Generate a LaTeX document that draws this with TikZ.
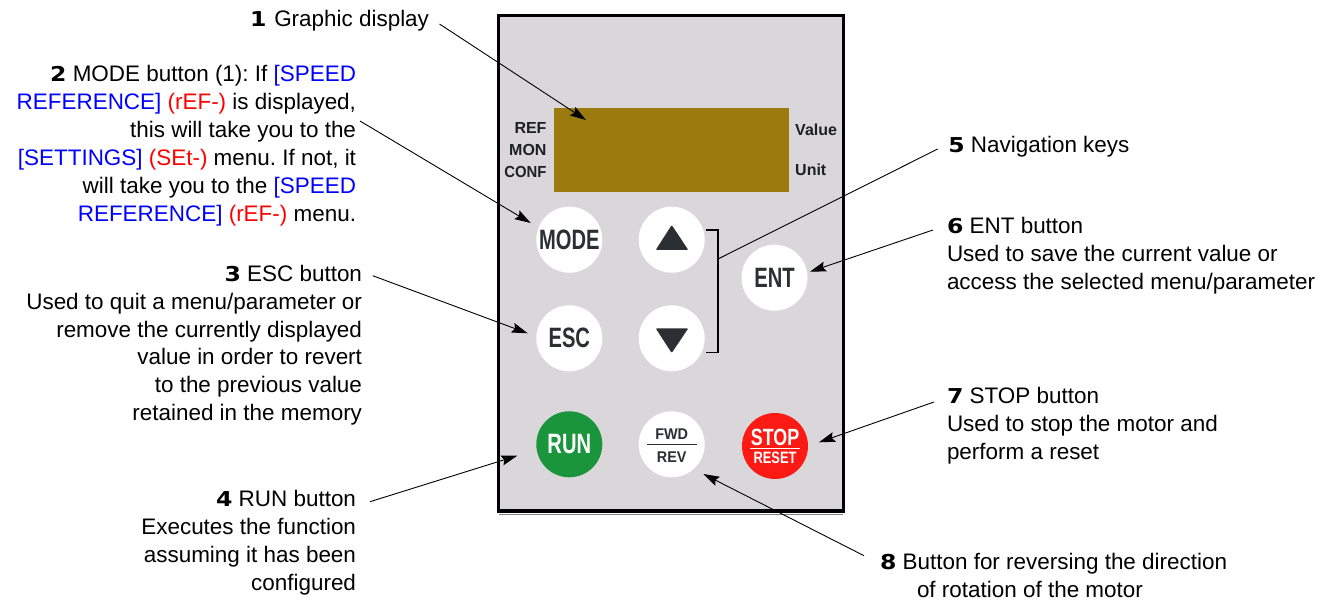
\documentclass[tikz,border=0pt]{standalone}
\usepackage{fontspec}
\setmainfont{Liberation Sans}
\newfontfamily\numfont{DejaVu Sans}[BoldFont={DejaVu Sans Bold}]
\usetikzlibrary{arrows.meta}
\definecolor{panelgray}{HTML}{D9D7DA}
\definecolor{dispcol}{HTML}{9C7B0E}
\definecolor{keyink}{HTML}{2B2E33}
\definecolor{rungreen}{HTML}{1B953C}
\definecolor{stopred}{HTML}{FC1A14}
\definecolor{linkblue}{HTML}{0000FF}
\definecolor{linkred}{HTML}{FF0000}
\newcommand{\nm}[1]{\scalebox{1.15}[1]{\numfont\bfseries\fontsize{20.5}{20}\selectfont #1}}
\newcommand{\bl}[1]{\textcolor{linkblue}{#1}}
\newcommand{\rd}[1]{\textcolor{linkred}{#1}}
\newcommand{\cond}[2]{\scalebox{#1}[1]{#2}}
\tikzset{
  x=1pt,y=-1pt,
  lbl/.style={inner sep=0pt,outer sep=0pt,font=\fontsize{22.45}{27.9}\selectfont\frenchspacing},
  lblr/.style={lbl,align=right,anchor=north east},
  lbll/.style={lbl,align=left,anchor=north west},
  key/.style={circle,fill=white,minimum size=66pt,inner sep=0pt,text=keyink,font=\fontsize{28}{28}\selectfont\bfseries},
  tag/.style={inner sep=0pt,font=\fontsize{16}{16}\selectfont\bfseries,text=keyink!70!black},
  leader/.style={draw=black,line width=0.9pt},
  pointer/.style={leader,-{Stealth[length=16pt,width=10pt,inset=2.5pt]}},
}
\begin{document}
\begin{tikzpicture}
\useasboundingbox (0,0) rectangle (1325,601);
\fill[white] (0,0) rectangle (1325,601);
% panel
\draw[line width=0.8pt,draw=black!50] (499,514) -- (843,514);
\node[draw=black,line width=3.2pt,fill=panelgray,minimum width=345pt,minimum height=495.5pt,inner sep=0pt,outer sep=0pt,anchor=north west] (panel) at (498.3,15.5) {};
\node[fill=dispcol,minimum width=235pt,minimum height=83.5pt,inner sep=0pt,outer sep=0pt,anchor=north west] (disp) at (554.3,108.2) {};
\node[tag,anchor=east] (tref) at (546.7,128.3) {REF};
\node[tag,anchor=east] (tmon) at (546.7,150) {MON};
\node[tag,anchor=east] (tconf) at (546.7,171.7) {\cond{0.93}{CONF}};
\node[tag,anchor=west] (tval) at (795,129.4) {Value};
\node[tag,anchor=west] (tunit) at (795,170) {Unit};
% keys
\node[key] (mode) at (569.3,239.7) {\cond{0.72}{MODE}};
\node[key] (up) at (671.7,239.7) {};
\node[key] (ent) at (774.5,277.7) {\cond{0.72}{ENT}};
\node[key] (esc) at (569.3,338.3) {\cond{0.72}{ESC}};
\node[key] (down) at (671.7,338.3) {};
\node[key,fill=rungreen,text=white] (run) at (569.3,444.3) {\cond{0.72}{RUN}};
\node[key] (fwd) at (671.7,444.3) {};
\node[key,fill=stopred,text=white] (stop) at (775,446) {};
\fill[keyink,rounded corners=1pt] (655.7,250) -- (671.7,225) -- (688.3,250) -- cycle;
\fill[keyink,rounded corners=1pt] (655.7,328.3) -- (671.7,353) -- (688.3,328.3) -- cycle;
\node[inner sep=0pt,text=keyink,font=\fontsize{15.5}{15.5}\selectfont\bfseries] (tfwd) at (671.7,433.7) {\cond{0.93}{FWD}};
\node[inner sep=0pt,text=keyink,font=\fontsize{15.5}{15.5}\selectfont\bfseries] (trev) at (671.7,456.7) {\cond{0.93}{REV}};
\draw[keyink,line width=1.3pt] (647.3,444.3) -- (696.7,444.3);
\node[inner sep=0pt,text=white,font=\fontsize{23.5}{23.5}\selectfont\bfseries] (tstop) at (775,437.7) {\cond{0.76}{STOP}};
\node[inner sep=0pt,text=white,font=\fontsize{16.5}{16.5}\selectfont\bfseries] (treset) at (775,458) {\cond{0.78}{RESET}};
\draw[white,line width=0.5pt] (750,448.3) -- (799.5,448.3);
% bracket
\coordinate (bta) at (706,230);
\coordinate (btb) at (718,230);
\coordinate (bba) at (706,352.7);
\coordinate (bbb) at (718,352.7);
\draw[black,line width=1.3pt] (bta) -- (btb) -- (bbb) -- (bba);
% labels
\node[lblr] (l1) at (429,10) {\nm{1}\hspace{0.35em}Graphic display};
\node[lblr] (l2) at (356,65.5) {\nm{2} MODE button (1): If \bl{[SPEED}\\
\bl{REFERENCE]} \rd{(rEF-)} is displayed,\\
this will take you to the\\
\bl{[SETTINGS]} \rd{(SEt-)} menu. If not, it\\
will take you to the \bl{[SPEED}\\
\bl{REFERENCE]} \rd{(rEF-)} menu.};
\node[lblr] (l3) at (362,265) {\nm{3} ESC button\\
Used to quit a menu/parameter or\\
remove the currently displayed\\
value in order to revert\\
to the previous value\\
retained in the memory};
\node[lblr] (l4) at (356,490.5) {\nm{4} RUN button\\
Executes the function\\
assuming it has been\\
configured};
\node[lbll] (l5) at (948.3,136) {\nm{5} Navigation keys};
\node[lbll] (l6) at (947,217.5) {\nm{6} ENT button\\
Used to save the current value or\\
access the selected menu/parameter};
\node[lbll] (l7) at (947,387) {\nm{7} STOP button\\
Used to stop the motor and\\
perform a reset};
\node[lbll] (l8) at (880,553.5) {\nm{8} Button for reversing the direction\\
\hspace{37pt}of rotation of the motor};
% connectors
\coordinate (s1) at (439.5,24);   \coordinate (e1) at (586,120);
\coordinate (s2) at (360,121);  \coordinate (e2) at (530.7,223);
\coordinate (s3) at (372.7,275.7);  \coordinate (e3) at (527.7,333.3);
\coordinate (s4) at (370,501.7);  \coordinate (e4) at (517.3,455.7);
\coordinate (s5) at (937.7,149);  \coordinate (e5) at (718,259);
\coordinate (s6) at (933,230);  \coordinate (e6) at (810,271.7);
\coordinate (s7) at (934,402);  \coordinate (e7) at (819,442.3);
\coordinate (s8) at (864,555.7);  \coordinate (e8) at (703.3,474);
\draw[pointer] (s1) -- (e1);
\draw[pointer] (s2) -- (e2);
\draw[pointer] (s3) -- (e3);
\draw[pointer] (s4) -- (e4);
\draw[leader] (s5) -- (e5);
\draw[pointer] (s6) -- (e6);
\draw[pointer] (s7) -- (e7);
\draw[pointer] (s8) -- (e8);
\end{tikzpicture}
\end{document}
